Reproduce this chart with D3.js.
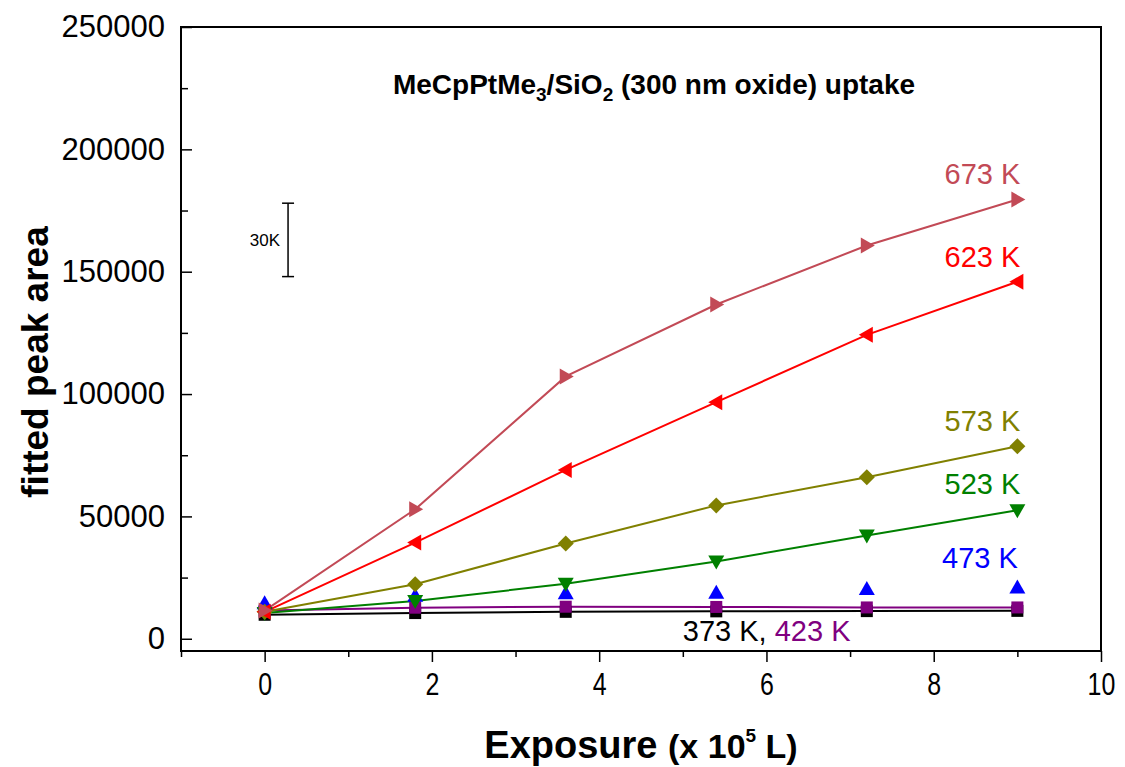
<!DOCTYPE html>
<html>
<head>
<meta charset="utf-8">
<script src="https://cdn.jsdelivr.net/npm/d3@7"></script>
<style>
  body { margin: 0; background: #fff; }
  text { font-family: Arial, "Liberation Sans", sans-serif; }
</style>
</head>
<body>
<div id="chart"></div>
<script>
// exposure (x 10^5 L)
const exposure = [0, 1.8, 3.6, 5.4, 7.2, 9.0];

// fitted peak area per temperature
const s373 = [9800, 10500, 11000, 11200, 11300, 11400];
const s423 = [11500, 12700, 13100, 13000, 12800, 12800];
const s473 = [14500, 17600, 18600, 18800, 20300, 20900];
const s523 = [10500, 15400, 22500, 31600, 42200, 52500];
const s573 = [11000, 22300, 38900, 54500, 66000, 78700];
const s623 = [11000, 39300, 69000, 96700, 124200, 145900];
const s673 = [11500, 52900, 107200, 136600, 160700, 179500];

const xTicks = [0, 2, 4, 6, 8, 10];
const yTicks = [0, 50000, 100000, 150000, 200000, 250000];

const W = 1125, H = 767;
const margin = {top: 27, right: 24, bottom: 116, left: 181};
const width = W - margin.left - margin.right,
      height = H - margin.top - margin.bottom;

const svg = d3.select("#chart").append("svg")
  .attr("width", W).attr("height", H);
const g = svg.append("g")
  .attr("transform", `translate(${margin.left},${margin.top})`);

const x = d3.scaleLinear().domain([-1, 10]).range([0, width]);
const y = d3.scaleLinear().domain([-5000, 250000]).range([height, 0]);

const series = [
  {v: s373, color: "#000000", sym: "square", line: true},
  {v: s423, color: "#800080", sym: "square", line: true},
  {v: s473, color: "#0000FF", sym: "up", line: false},
  {v: s523, color: "#008000", sym: "down", line: true},
  {v: s573, color: "#808000", sym: "diamond", line: true},
  {v: s623, color: "#FF0000", sym: "left", line: true},
  {v: s673, color: "#C24A56", sym: "right", line: true}
];

// frame
g.append("rect")
  .attr("width", width).attr("height", height)
  .attr("fill", "none").attr("stroke", "#000").attr("stroke-width", 2);

// x axis (ticks outward)
const xAxis = g.append("g").attr("transform", `translate(0,${height})`)
  .call(d3.axisBottom(x).tickValues(xTicks).tickSize(11).tickPadding(6).tickFormat(d3.format("d")));
g.append("g").attr("transform", `translate(0,${height})`)
  .call(d3.axisBottom(x).tickValues([-1, 1, 3, 5, 7, 9]).tickSize(6).tickFormat(""))
  .call(a => a.select(".domain").remove());
xAxis.select(".domain").remove();
xAxis.selectAll("text")
  .style("font-size", "32px")
  .attr("dy", "0.85em")
  .attr("transform", "scale(0.78,1)");

// y axis (ticks inward)
const yAxis = g.append("g")
  .call(d3.axisLeft(y).tickValues(yTicks).tickSize(-11).tickPadding(16).tickFormat(d3.format("d")));
g.append("g")
  .call(d3.axisLeft(y).tickValues([25000, 75000, 125000, 175000, 225000]).tickSize(-7).tickFormat(""))
  .call(a => a.select(".domain").remove());
yAxis.select(".domain").remove();
yAxis.selectAll("text").style("font-size", "31px");
g.selectAll(".tick line").attr("stroke", "#000").attr("stroke-width", 1.5);

// lines
const line = d3.line().x((d, i) => x(exposure[i])).y(d => y(d));
series.filter(s => s.line).forEach(s => {
  g.append("path").datum(s.v)
    .attr("d", line)
    .attr("fill", "none")
    .attr("stroke", s.color)
    .attr("stroke-width", 2);
});

// markers
const r = 8;
function markerPath(sym) {
  switch (sym) {
    case "square": return `M${-r+2},${-r+2}H${r-2}V${r-2}H${-r+2}Z`;
    case "up": return `M0,${-r}L${r},${r*0.75}L${-r},${r*0.75}Z`;
    case "down": return `M0,${r}L${r},${-r*0.75}L${-r},${-r*0.75}Z`;
    case "left": return `M${-r},0L${r*0.75},${-r}L${r*0.75},${r}Z`;
    case "right": return `M${r},0L${-r*0.75},${-r}L${-r*0.75},${r}Z`;
    case "diamond": return `M0,${-r}L${r},0L0,${r}L${-r},0Z`;
  }
}
series.forEach(s => {
  g.append("g").selectAll("path")
    .data(s.v)
    .join("path")
    .attr("transform", (d, i) => `translate(${x(exposure[i])},${y(d)})`)
    .attr("d", markerPath(s.sym))
    .attr("fill", s.color);
});

// series labels
const labels = [
  {t: "673 K", x: 8.13, y: 186000, color: "#C24A56"},
  {t: "623 K", x: 8.13, y: 152000, color: "#FF0000"},
  {t: "573 K", x: 8.13, y: 85000, color: "#808000"},
  {t: "523 K", x: 8.13, y: 59000, color: "#008000"},
  {t: "473 K", x: 8.1, y: 29000, color: "#0000FF"}
];
labels.forEach(l => {
  g.append("text")
    .attr("x", x(l.x)).attr("y", y(l.y))
    .attr("fill", l.color)
    .style("font-size", "29px")
    .text(l.t);
});
const low = g.append("text")
  .attr("x", x(5)).attr("y", y(-1000))
  .style("font-size", "29px");
low.append("tspan").attr("fill", "#000").text("373 K, ");
low.append("tspan").attr("fill", "#800080").text("423 K");

// scale bar (30K)
const barX = x(0.28), barTop = 178000, barLen = 30000;
g.append("line")
  .attr("x1", barX).attr("x2", barX)
  .attr("y1", y(barTop)).attr("y2", y(barTop - barLen))
  .attr("stroke", "#000").attr("stroke-width", 1.5);
[barTop, barTop - barLen].forEach(v => {
  g.append("line")
    .attr("x1", barX - 6).attr("x2", barX + 6)
    .attr("y1", y(v)).attr("y2", y(v))
    .attr("stroke", "#000").attr("stroke-width", 1.5);
});
g.append("text")
  .attr("x", barX - 8).attr("y", y(barTop - barLen / 2))
  .attr("text-anchor", "end").attr("dy", "0.35em")
  .style("font-size", "17px")
  .text("30K");

// title
const title = svg.append("text")
  .attr("x", 654).attr("y", 94)
  .attr("text-anchor", "middle")
  .style("font-size", "28px").style("font-weight", "bold");
title.append("tspan").text("MeCpPtMe");
title.append("tspan").attr("dy", 7).style("font-size", "19px").text("3");
title.append("tspan").attr("dy", -7).text("/SiO");
title.append("tspan").attr("dy", 7).style("font-size", "19px").text("2");
title.append("tspan").attr("dy", -7).text(" (300 nm oxide) uptake");

// axis titles
const xt = svg.append("text")
  .attr("x", 641).attr("y", 758)
  .attr("text-anchor", "middle")
  .style("font-size", "38px").style("font-weight", "bold");
xt.append("tspan").text("Exposure ");
xt.append("tspan").style("font-size", "34px").text("(x 10");
xt.append("tspan").attr("dy", -16).style("font-size", "19px").text("5");
xt.append("tspan").attr("dy", 16).style("font-size", "34px").text(" L)");

svg.append("text")
  .attr("transform", "translate(48,362) rotate(-90)")
  .attr("text-anchor", "middle")
  .style("font-size", "37px").style("font-weight", "bold")
  .text("fitted peak area");
</script>
</body>
</html>
